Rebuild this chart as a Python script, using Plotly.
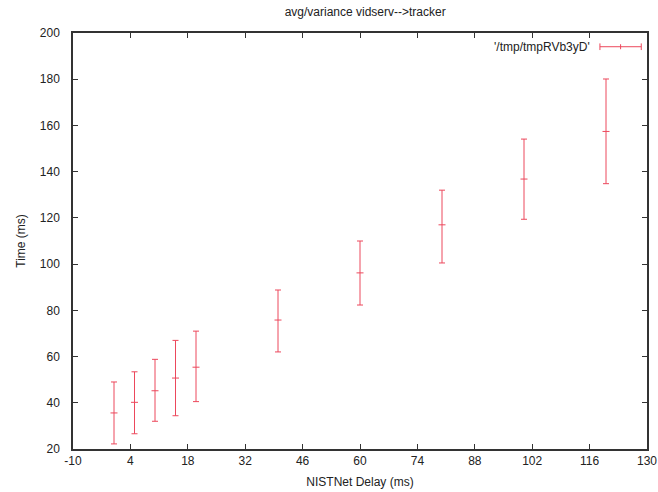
import plotly.graph_objects as go

delay = [0, 5, 10, 15, 20, 40, 60, 80, 100, 120]
avg_time = [35.6, 40.2, 45.2, 50.7, 55.4, 75.8, 96.2, 117.0, 136.8, 157.4]
upper = [49.0, 53.4, 58.8, 67.0, 71.0, 88.8, 110.0, 132.0, 154.1, 180.1]
lower = [22.2, 26.6, 32.0, 34.4, 40.5, 62.0, 82.3, 100.5, 119.4, 134.8]
x_ticks = [-10, 4, 18, 32, 46, 60, 74, 88, 102, 116, 130]
y_ticks = [20, 40, 60, 80, 100, 120, 140, 160, 180, 200]
series_name = "'/tmp/tmpRVb3yD'"

err_plus = [u - a for u, a in zip(upper, avg_time)]
err_minus = [a - l for a, l in zip(avg_time, lower)]

red = "rgb(236,72,92)"
font = "Liberation Sans, Arial, sans-serif"

fig = go.Figure()
fig.add_trace(go.Scatter(
    x=delay, y=avg_time, mode="markers", name=series_name,
    marker=dict(symbol="line-ew", size=5, color=red, line=dict(color=red, width=1)),
    error_y=dict(type="data", symmetric=False, array=err_plus, arrayminus=err_minus,
                 color=red, thickness=1, width=3),
    showlegend=False,
))

axis_common = dict(
    showgrid=False, zeroline=False, showline=True, linecolor="#333", linewidth=1.5,
    mirror="ticks", ticks="inside", ticklen=5, tickcolor="#333", tickwidth=1,
    tickfont=dict(family=font, size=12, color="#222"), automargin=False,
)

fig.update_xaxes(range=[-10, 130], tickvals=x_ticks, ticktext=[str(v) for v in x_ticks],
                 title=dict(text="NISTNet Delay (ms)", font=dict(family=font, size=12, color="#222"), standoff=10),
                 **axis_common)
fig.update_yaxes(range=[20, 200], tickvals=y_ticks, ticklabelstandoff=9,
                 title=dict(text="Time (ms)", font=dict(family=font, size=12, color="#222"), standoff=12),
                 **axis_common)

# legend (gnuplot style: text then sample on the right)
fig.add_annotation(xref="paper", yref="paper", x=0.905, y=0.967, xanchor="right", yanchor="middle",
                   text=series_name, showarrow=False, font=dict(family=font, size=12, color="#222"))
fig.add_shape(type="line", xref="paper", yref="paper", x0=0.918, x1=0.99, y0=0.967, y1=0.967,
              line=dict(color=red, width=1))
for xp in [0.918, 0.99]:
    fig.add_shape(type="line", xref="paper", yref="paper", x0=xp, x1=xp, y0=0.959, y1=0.975,
                  line=dict(color=red, width=1))
fig.add_shape(type="line", xref="paper", yref="paper", x0=0.954, x1=0.954, y0=0.961, y1=0.973,
              line=dict(color=red, width=1))

fig.update_layout(
    width=658, height=492,
    margin=dict(l=73, r=11, t=33, b=43),
    paper_bgcolor="white", plot_bgcolor="white",
    title=dict(text="avg/variance vidserv-->tracker", x=0.555, xanchor="center", y=0.976, yanchor="middle",
               font=dict(family=font, size=12, color="#222")),
)

fig.write_html("out.html")
